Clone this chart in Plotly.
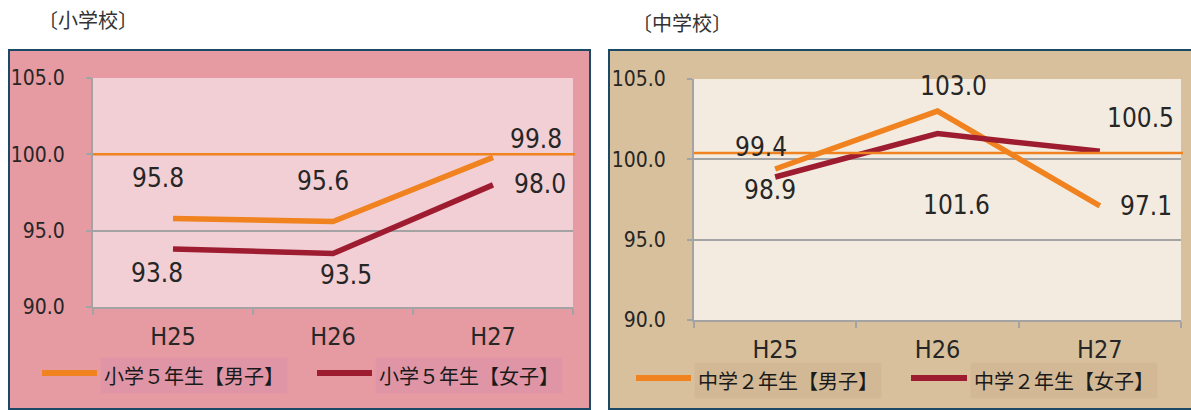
import plotly.graph_objects as go

# ---- data -------------------------------------------------------------
years = ["H25", "H26", "H27"]

elem_boys = [95.8, 95.6, 99.8]     # 小学５年生【男子】
elem_girls = [93.8, 93.5, 98.0]    # 小学５年生【女子】
jh_boys = [99.4, 103.0, 97.1]      # 中学２年生【男子】
jh_girls = [98.9, 101.6, 100.5]    # 中学２年生【女子】

y_ticks = [90.0, 95.0, 100.0, 105.0]
reference_levels = [100.0, 100.4]  # horizontal reference lines (elementary, junior high)

panel_titles = ["〔小学校〕", "〔中学校〕"]
legend_names = [["小学５年生【男子】", "小学５年生【女子】"],
                ["中学２年生【男子】", "中学２年生【女子】"]]

# ---- styling ----------------------------------------------------------
W, H = 1191, 410
ORANGE = "#F0821F"
WINE = "#9D1C30"
GRID = "#A3A3A3"
NUM_FONT = "Liberation Sans Narrow, DejaVu Sans Condensed, Noto Sans CJK JP"
JP_FONT = "Noto Sans CJK JP"


def px(x):
    return x / W


def py(y):
    return 1 - y / H


panels = [
    dict(box=(9, 50, 590, 409), plot=(93, 78, 573, 307), bg="#E69AA2", plotbg="#F2CFD4",
         legbg="#DF95A6", title=(36, 19), leg_y=375,
         leg=[(42, 97, 100), (317, 372, 375)],
         offsets=[[(-15, 40), (-10, 41), (43, 18)], [(-16, -24), (13, -21), (47, 1)]]),
    dict(box=(609, 50, 1200, 409), plot=(694, 79, 1181, 320), bg="#D9C09D", plotbg="#F3EBE0",
         legbg="#D3B895", title=(630, 22), leg_y=380,
         leg=[(636, 691, 694), (911, 967, 970)],
         offsets=[[(-14, 22), (16, 25), (46, 0)], [(-5, -13), (19, -71), (41, 33)]]),
]
series = [(elem_boys, elem_girls), (jh_boys, jh_girls)]

fig = go.Figure()
shapes, annotations = [], []

for i, (p, (boys, girls)) in enumerate(zip(panels, series)):
    xa = "x" if i == 0 else "x2"
    ya = "y" if i == 0 else "y2"
    bx0, by0, bx1, by1 = p["box"]
    # outer chart frame
    shapes.append(dict(type="rect", xref="paper", yref="paper", layer="below",
                       x0=px(bx0), x1=px(bx1), y0=py(by1), y1=py(by0),
                       fillcolor=p["bg"], line=dict(color="#1C4A66", width=2)))
    # plot-area background
    shapes.append(dict(type="rect", xref=f"{xa} domain", yref=f"{ya} domain", layer="below",
                       x0=0, x1=1, y0=0, y1=1, fillcolor=p["plotbg"], line=dict(width=0)))
    # reference line
    shapes.append(dict(type="line", xref=f"{xa} domain", yref=ya, layer="above",
                       x0=0, x1=1.004, y0=reference_levels[i], y1=reference_levels[i],
                       line=dict(color=ORANGE, width=2.5)))

    for vals, color, offs in ((boys, ORANGE, p["offsets"][0]), (girls, WINE, p["offsets"][1])):
        fig.add_trace(go.Scatter(x=years, y=vals, mode="lines", xaxis=xa, yaxis=ya,
                                 line=dict(color=color, width=5.5), showlegend=False,
                                 hoverinfo="skip"))
        for yr, v, (dx, dy) in zip(years, vals, offs):
            annotations.append(dict(x=yr, y=v, xref=xa, yref=ya, text=f"{v:.1f}",
                                    showarrow=False, xshift=dx, yshift=dy,
                                    font=dict(family=NUM_FONT, size=26, color="#262626")))

    # panel title
    tx, ty = p["title"]
    annotations.append(dict(x=px(tx), y=py(ty), xref="paper", yref="paper", text=panel_titles[i],
                            showarrow=False, xanchor="left", yanchor="middle",
                            font=dict(family=JP_FONT, size=20, color="#333333")))

    # legend entries
    for (lx0, lx1, tx0), name, color in zip(p["leg"], legend_names[i], (ORANGE, WINE)):
        shapes.append(dict(type="line", xref="paper", yref="paper",
                           x0=px(lx0), x1=px(lx1), y0=py(p["leg_y"] - 2), y1=py(p["leg_y"] - 2),
                           line=dict(color=color, width=6)))
        annotations.append(dict(x=px(tx0), y=py(p["leg_y"]), xref="paper", yref="paper",
                                text=name, showarrow=False, xanchor="left", yanchor="middle",
                                bgcolor=p["legbg"], borderpad=3,
                                font=dict(family=JP_FONT, size=20, color="#1A1A1A")))

layout = dict(template="none", width=W, height=H, margin=dict(l=0, r=0, t=0, b=0, pad=0),
              paper_bgcolor="white", plot_bgcolor="rgba(0,0,0,0)",
              shapes=shapes, annotations=annotations, showlegend=False)

for i, p in enumerate(panels):
    x0, y0, x1, y1 = p["plot"]
    sfx = "" if i == 0 else "2"
    layout[f"xaxis{sfx}"] = dict(
        domain=[px(x0), px(x1)], anchor=f"y{sfx}", type="category", automargin=False,
        range=[-0.5, len(years) - 0.5], categoryorder="array", categoryarray=years,
        showline=True, linecolor=GRID, linewidth=2, showgrid=False, zeroline=False,
        ticks="outside", tickson="boundaries", ticklen=6, tickcolor=GRID, tickwidth=2,
        ticklabelstandoff=6,
        tickfont=dict(family=NUM_FONT, size=25, color="#262626"), fixedrange=True)
    layout[f"yaxis{sfx}"] = dict(
        domain=[py(y1), py(y0)], anchor=f"x{sfx}", range=[90, 105], automargin=False,
        tickvals=y_ticks, ticktext=[f"{v:.1f}" for v in y_ticks],
        showline=True, linecolor=GRID, linewidth=2,
        showgrid=True, gridcolor=GRID, gridwidth=2, zeroline=False,
        ticks="outside", ticklen=5, tickcolor=GRID, tickwidth=2,
        ticklabelstandoff=17,
        tickfont=dict(family=NUM_FONT, size=21, color="#262626"), fixedrange=True)

fig.update_layout(**layout)
fig.write_html("out.html")
